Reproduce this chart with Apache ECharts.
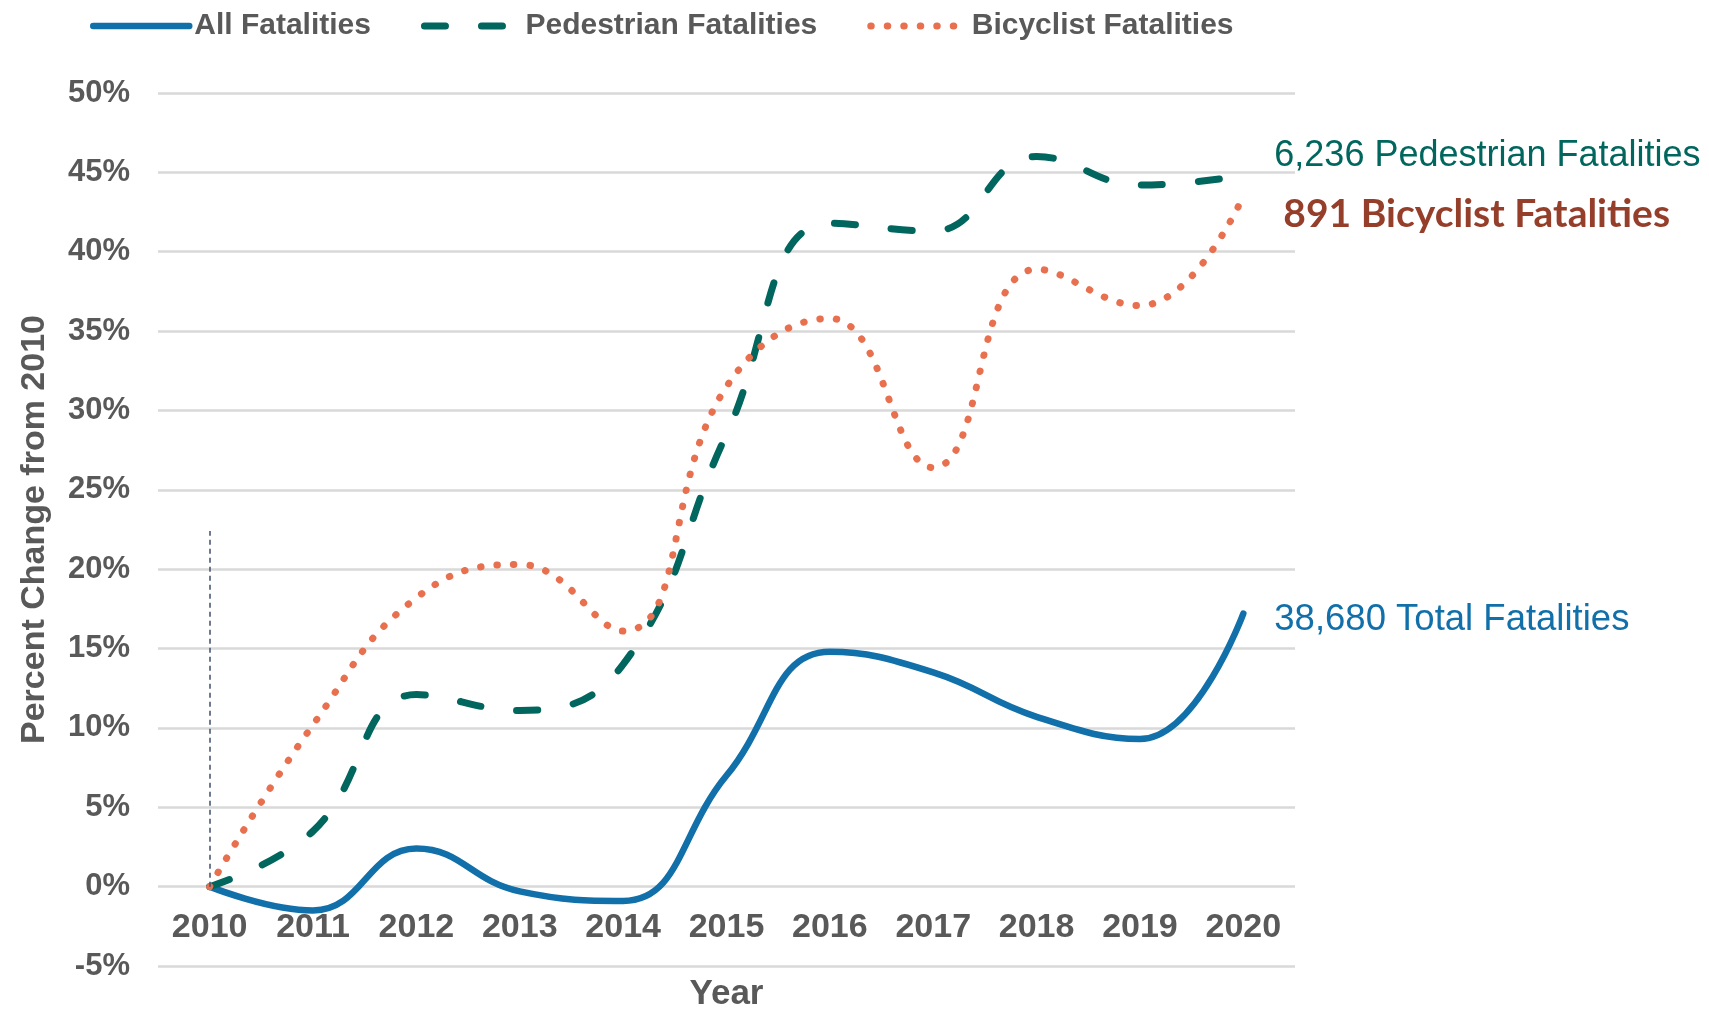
<!DOCTYPE html>
<html>
<head>
<meta charset="utf-8" />
<title>Percent Change in Fatalities from 2010</title>
<script src="https://cdn.jsdelivr.net/npm/echarts@6/dist/echarts.min.js"></script>
<style>
  html, body { margin: 0; padding: 0; background: #fff; }
  #chart { width: 1709px; height: 1009px; }
</style>
</head>
<body>
<div id="chart"></div>
<script>
// Years on the x axis
const years = ["2010", "2011", "2012", "2013", "2014", "2015", "2016", "2017", "2018", "2019", "2020"];

// Percent change from 2010
const allFatalities = [0, -1.5, 2.4, -0.3, -0.9, 7.0, 14.8, 13.5, 10.7, 9.3, 17.2];
const pedestrianFatalities = [0, 3.5, 12.1, 11.1, 14.0, 28.5, 41.8, 41.3, 46.0, 44.2, 44.8];
const bicyclistFatalities = [0, 10.2, 18.2, 20.3, 16.1, 31.5, 35.8, 26.4, 38.9, 36.6, 43.5];

// End-of-line annotations
const endLabels = {
  all: "38,680 Total Fatalities",
  pedestrian: "6,236 Pedestrian Fatalities",
  bicyclist: "891 Bicyclist Fatalities",
};

// Reference line at 2010
const refLineTop = 22.4;

const Y_MIN = -5;
const Y_MAX = 50;

const BLUE = "#1170aa";
const TEAL = "#00665e";
const ORANGE = "#e8704f";
const BROWN = "#953f2b";
const GRAY = "#595959";
const FONT = "'Liberation Sans', Arial, sans-serif";

const GRID = { left: 158, right: 414, top: 93, bottom: 43 };
const CHART_H = 1009;
// year labels sit on the 0% line (as in the source), so lift the x axis up to it
const plotH = CHART_H - GRID.top - GRID.bottom;
const xAxisLift = -plotH * (0 - Y_MIN) / (Y_MAX - Y_MIN);

const chart = echarts.init(document.getElementById("chart"));

const option = {
  animation: false,
  textStyle: { fontFamily: FONT },
  legend: {
    left: 85,
    top: 6,
    itemWidth: 96,
    itemHeight: 14,
    itemGap: 50,
    lineStyle: { width: "inherit" },
    itemStyle: { opacity: 0 },
    textStyle: { fontSize: 30, fontWeight: "bold", color: GRAY, fontFamily: FONT },
    data: ["All Fatalities", "Pedestrian Fatalities", "Bicyclist Fatalities"],
  },
  grid: {
    ...GRID,
    outerBoundsMode: "none",
  },
  xAxis: {
    type: "category",
    data: years,
    offset: xAxisLift,
    name: "Year",
    nameLocation: "middle",
    nameGap: 90,
    nameTextStyle: { fontSize: 35, fontWeight: "bold", color: GRAY },
    axisLine: { show: false, onZero: false },
    axisTick: { show: false },
    axisLabel: {
      margin: 24,
      fontSize: 34,
      fontWeight: "bold",
      color: GRAY,
      interval: 0,
    },
  },
  yAxis: {
    type: "value",
    min: Y_MIN,
    max: Y_MAX,
    interval: 5,
    name: "Percent Change from 2010",
    nameLocation: "middle",
    nameGap: 106,
    nameTextStyle: { fontSize: 34, fontWeight: "bold", color: GRAY },
    axisLabel: {
      formatter: "{value}%",
      margin: 28,
      fontSize: 31,
      fontWeight: "bold",
      color: GRAY,
    },
    axisLine: { show: false },
    axisTick: { show: false },
    splitLine: {
      lineStyle: { color: "#d9d9d9", width: 2.5 },
    },
  },
  series: [
    {
      name: "All Fatalities",
      type: "line",
      data: allFatalities,
      smooth: 0.45,
      symbol: "none",
      lineStyle: { color: BLUE, width: 6.5, cap: "round" },
      itemStyle: { color: BLUE },
      endLabel: {
        show: true,
        formatter: () => endLabels.all,
        distance: 31,
        offset: [0, 6],
        fontSize: 36.5,
        color: BLUE,
        fontFamily: FONT,
      },
      markLine: {
        silent: true,
        symbol: ["none", "none"],
        label: { show: false },
        lineStyle: { color: "#3f4f6b", type: [5, 4], width: 1.5 },
        data: [[{ coord: [0, 0] }, { coord: [0, refLineTop] }]],
      },
    },
    {
      name: "Pedestrian Fatalities",
      type: "line",
      data: pedestrianFatalities,
      smooth: 0.45,
      symbol: "none",
      lineStyle: { color: TEAL, width: 7, type: [21, 36], cap: "round" },
      itemStyle: { color: TEAL },
      endLabel: {
        show: true,
        formatter: () => endLabels.pedestrian,
        distance: 31,
        offset: [0, -19],
        fontSize: 36,
        color: TEAL,
        fontFamily: FONT,
      },
    },
    {
      name: "Bicyclist Fatalities",
      type: "line",
      data: bicyclistFatalities,
      smooth: 0.45,
      symbol: "none",
      lineStyle: { color: ORANGE, width: 7, type: [0.5, 16], cap: "round" },
      itemStyle: { color: ORANGE },
      endLabel: {
        show: true,
        formatter: () => endLabels.bicyclist,
        distance: 40,
        offset: [0, 18],
        fontSize: 39,
        fontWeight: "bold",
        color: BROWN,
        fontFamily: "Lato, 'Open Sans', sans-serif",
      },
    },
  ],
};

chart.setOption(option);
</script>
</body>
</html>
